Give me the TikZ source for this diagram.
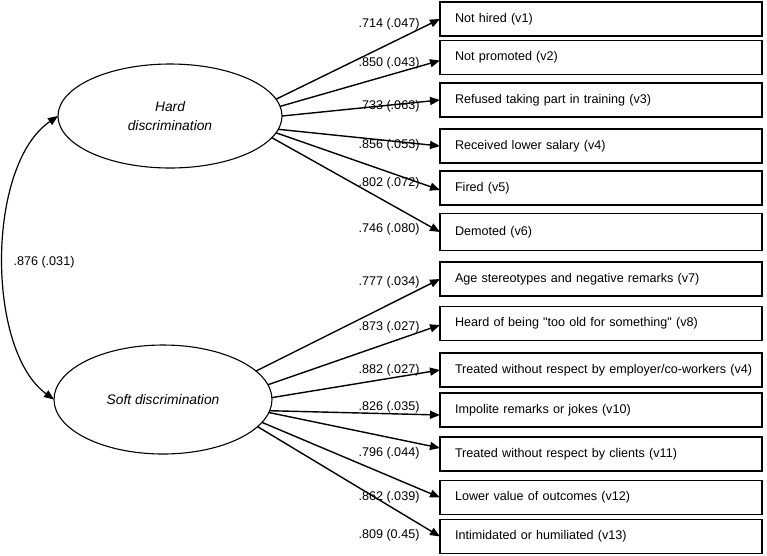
\documentclass[tikz,border=0pt]{standalone}
\usepackage{fontspec}
\setmainfont{Liberation Sans}
\usetikzlibrary{arrows.meta,shapes.geometric}
\begin{document}
\begin{tikzpicture}[x=1pt,y=-1pt,
  every node/.style={font=\fontsize{12.6}{15}\selectfont},
  latent/.style={ellipse,draw,line width=1.1pt,inner sep=0pt,outer sep=0pt,
    font=\fontsize{13.8}{19}\selectfont\itshape,align=center},
  obs/.style={rectangle,draw,line width=1.3pt,anchor=west,minimum height=34pt,
    text width=322pt,inner xsep=0pt,inner ysep=0pt,outer sep=0pt,align=left,
    execute at begin node={\hspace*{15pt}}},
  load/.style={line width=1.4pt,-{Triangle[length=10pt,width=8pt]}},
  coef/.style={inner sep=0pt}]
\useasboundingbox (0,0) rectangle (767,555);
\fill[white] (0,0) rectangle (767,555);

% latent variables
\node[latent,minimum width=224pt,minimum height=104pt] (hard) at (170,116) {Hard\\discrimination};
\node[latent,minimum width=218pt,minimum height=109pt] (soft) at (163,399.5) {Soft discrimination};

% observed indicators
\node[obs] (v1)  at (440,19)    {Not hired (v1)};
\node[obs] (v2)  at (440,57.5)  {Not promoted (v2)};
\node[obs] (v3)  at (440,100)   {Refused taking part in training (v3)};
\node[obs] (v4)  at (440,146)   {Received lower salary (v4)};
\node[obs] (v5)  at (440,188)   {Fired (v5)};
\node[obs,minimum height=37pt] (v6)  at (440,232)   {Demoted (v6)};
\node[obs] (v7)  at (440,279)   {Age stereotypes and negative remarks (v7)};
\node[obs] (v8)  at (440,323.5) {Heard of being \textquotedbl too old for something\textquotedbl{} (v8)};
\node[obs] (v9)  at (440,370)   {Treated without respect by employer/co-workers (v4)};
\node[obs] (v10) at (440,410)   {Impolite remarks or jokes (v10)};
\node[obs] (v11) at (440,454)   {Treated without respect by clients (v11)};
\node[obs] (v12) at (440,497.5) {Lower value of outcomes (v12)};
\node[obs] (v13) at (440,536.5) {Intimidated or humiliated (v13)};

% loadings
\draw[load] (hard.9)   -- (v1.west);
\draw[load] (hard.5)   -- ([yshift=-3pt]v2.west);
\draw[load] (hard.0.5) -- (v3.west);
\draw[load] (hard.-7)  -- (v4.west);
\draw[load] (hard.-9)  -- ([yshift=-2pt]v5.west);
\draw[load] (hard.-12) -- (v6.west);

\draw[load] (soft.17)   -- (v7.west);
\draw[load] (soft.8)    -- ([yshift=-1.5pt]v8.west);
\draw[load] (soft.1)    -- (v9.west);
\draw[load] (soft.-6)   -- ([yshift=-5pt]v10.west);
\draw[load] (soft.-7.5) -- ([yshift=6pt]v11.west);
\draw[load] (soft.-13.5)-- (v12.west);
\draw[load] (soft.-16)  -- (v13.west);

% correlation
\draw[line width=1.2pt,{Triangle[length=10pt,width=8pt]}-{Triangle[length=10pt,width=8pt]}]
  (hard.west) .. controls (-14,165) and (-14,350) .. (soft.west);
\node[coef] (r) at (44,262) {.876 (.031)};

% coefficient labels
\node[coef] (l1)  at (389,24)  {.714 (.047)};
\node[coef] (l2)  at (389,63)  {.850 (.043)};
\node[coef] (l3)  at (389,106) {.733 (.063)};
\node[coef] (l4)  at (389,145) {.856 (.053)};
\node[coef] (l5)  at (389,183) {.802 (.072)};
\node[coef] (l6)  at (389,229) {.746 (.080)};
\node[coef] (l7)  at (389,282) {.777 (.034)};
\node[coef] (l8)  at (389,327) {.873 (.027)};
\node[coef] (l9)  at (389,370) {.882 (.027)};
\node[coef] (l10) at (389,407) {.826 (.035)};
\node[coef] (l11) at (389,453) {.796 (.044)};
\node[coef] (l12) at (389,497) {.862 (.039)};
\node[coef] (l13) at (389,535) {.809 (0.45)};
\end{tikzpicture}
\end{document}
